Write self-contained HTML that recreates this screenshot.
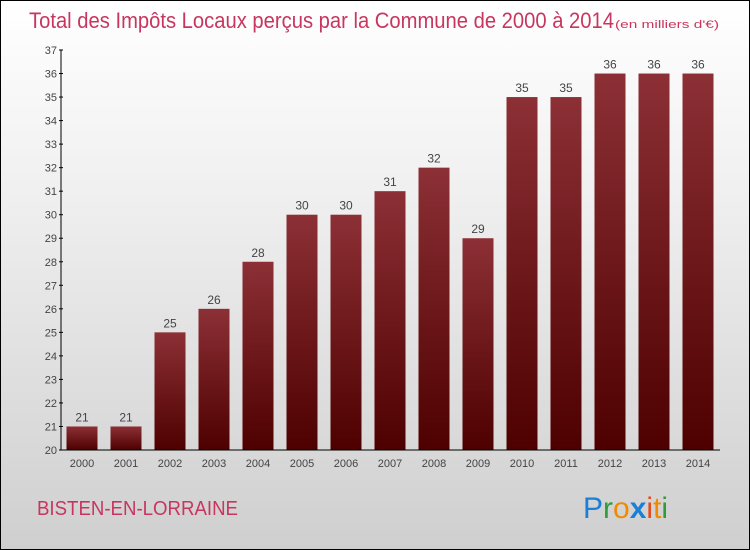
<!DOCTYPE html>
<html><head><meta charset="utf-8"><style>
body{margin:0;}
#wrap{position:relative;width:748px;height:548px;border:1px solid #000;background:linear-gradient(#ffffff,#f2f2f2 30%,#cfcfcf);font-family:"Liberation Sans",sans-serif;overflow:hidden}
</style></head><body>
<div id="wrap">
<svg id="chart" width="748" height="548">
<defs><linearGradient id="bg" x1="0" y1="0" x2="0" y2="1"><stop offset="0" stop-color="#8c3036"/><stop offset="1" stop-color="#4e0000"/></linearGradient></defs>
<text x="28" y="27" font-size="22" fill="#c8365f" textLength="585" lengthAdjust="spacingAndGlyphs">Total des Impôts Locaux perçus par la Commune de 2000 à 2014</text>
<text x="614" y="27" font-size="11" fill="#c8365f" textLength="104" lengthAdjust="spacingAndGlyphs">(en milliers d'€)</text>
<text x="36" y="514" font-size="20" fill="#c8365f" textLength="201" lengthAdjust="spacingAndGlyphs">BISTEN-EN-LORRAINE</text>
<g font-size="30">
<text x="582" y="517"><tspan fill="#1a7fd6">P</tspan><tspan fill="#2e9d3a">r</tspan><tspan fill="#f08a00">o</tspan><tspan fill="#1a7fd6" font-weight="bold">x</tspan><tspan fill="#e34a1c">i</tspan><tspan fill="#f08a00">t</tspan><tspan fill="#2e9d3a">i</tspan></text></g>
<g id="bars"></g><g id="axes"></g>
</svg></div>
<script>
const years=["2000","2001","2002","2003","2004","2005","2006","2007","2008","2009","2010","2011","2012","2013","2014"];
const values=[21,21,25,26,28,30,30,31,32,29,35,35,36,36,36];
const yTicks=[20,21,22,23,24,25,26,27,28,29,30,31,32,33,34,35,36,37];
const NS="http://www.w3.org/2000/svg";
const y=v=>449-(v-20)*(400/17);
const x=i=>81+i*44;
function mk(t,a,p){const e=document.createElementNS(NS,t);for(const k in a)e.setAttribute(k,a[k]);p.appendChild(e);return e;}
const bars=document.getElementById('bars'),axes=document.getElementById('axes');
values.forEach((v,i)=>{
 const r=mk('rect',{x:x(i)-15.5,y:y(v),width:31,height:y(20)-y(v),fill:'url(#bg)'},bars);
 
 
 const t=mk('text',{x:x(i),y:y(v)-5,'text-anchor':'middle','font-size':12,fill:'#444'},bars);t.textContent=v;
 
 
 const l=mk('text',{x:x(i),y:466,'text-anchor':'middle','font-size':11,fill:'#444'},axes);l.textContent=years[i];
 
 
});
mk('line',{x1:60,y1:y(37),x2:60,y2:y(20),stroke:'#000'},axes);
mk('line',{x1:60,y1:y(20),x2:719,y2:y(20),stroke:'#000'},axes);
yTicks.forEach(v=>{
 mk('line',{x1:58,y1:y(v),x2:62,y2:y(v),stroke:'#000'},axes);
 const t=mk('text',{x:56,y:y(v)+4,'text-anchor':'end','font-size':11,fill:'#444'},axes);t.textContent=v;
 
 
});
</script>
</body></html>
